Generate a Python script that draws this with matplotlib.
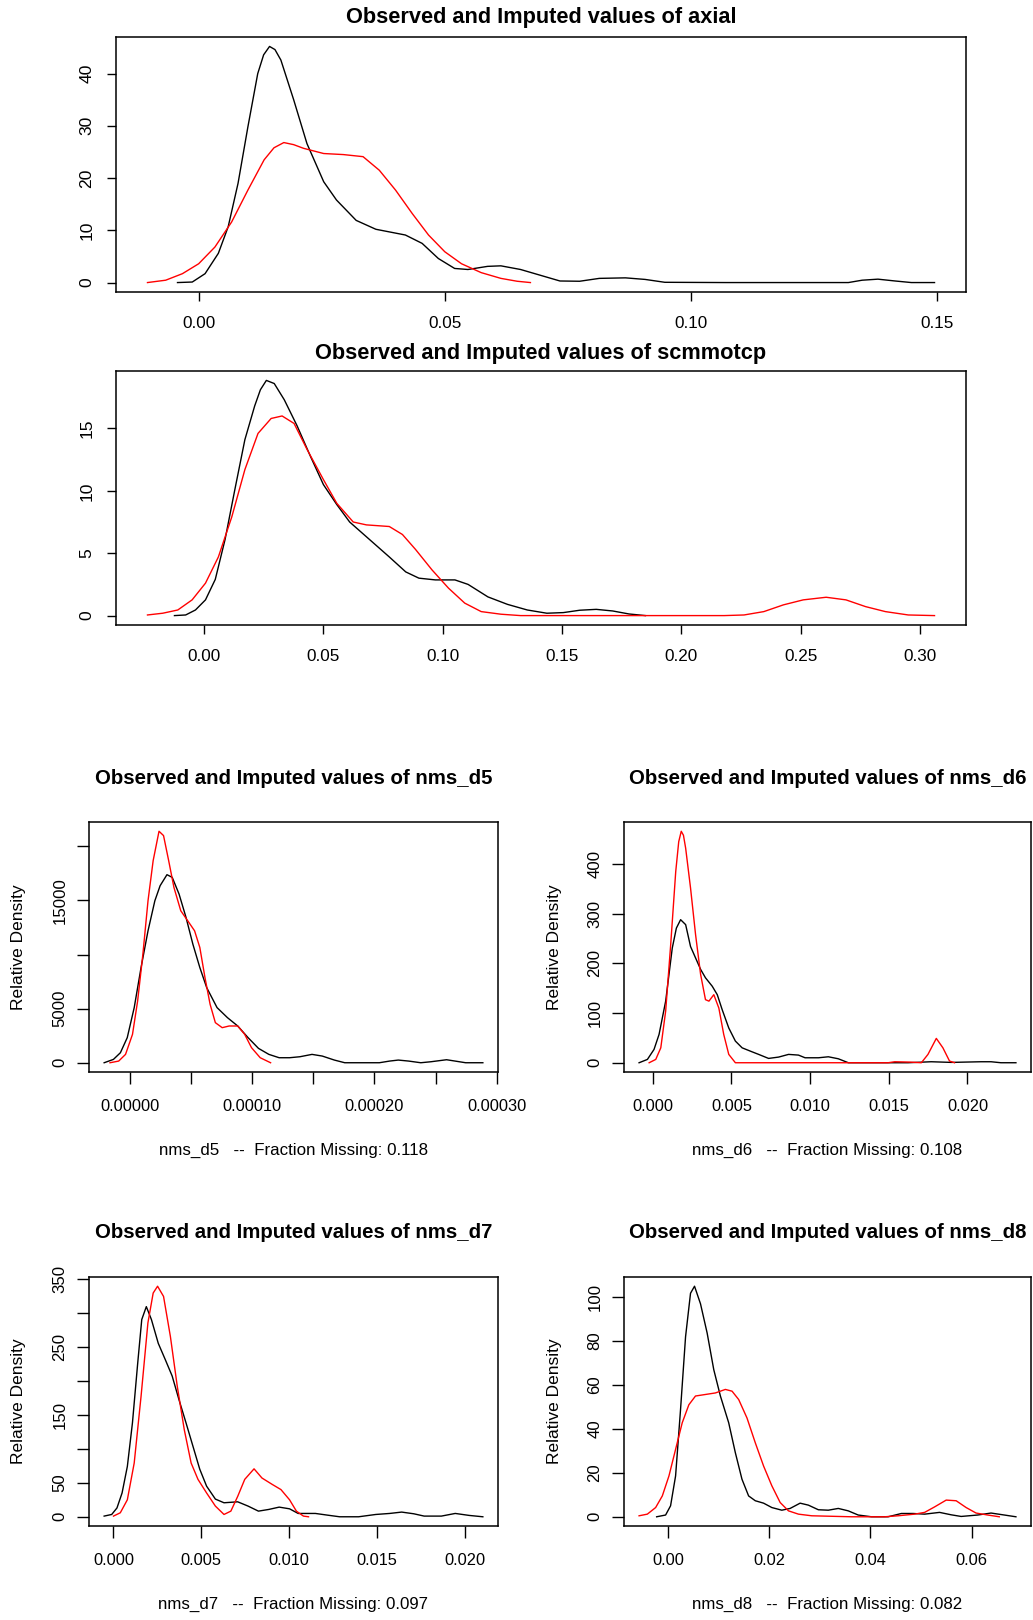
import matplotlib
matplotlib.use("Agg")
import matplotlib.pyplot as plt
import numpy as np

plt.rcParams['font.family'] = ['Liberation Sans', 'DejaVu Sans']

# ---- data (observed = black, imputed = red) ----
axial_obs_x = [-0.0043, -0.0013, 0.0013, 0.004, 0.006, 0.008, 0.010, 0.012, 0.0132, 0.0144, 0.0155, 0.0167,
               0.0193, 0.022, 0.0254, 0.028, 0.032, 0.036, 0.042, 0.0454, 0.0487, 0.052, 0.0547, 0.0587,
               0.0614, 0.0654, 0.0694, 0.0734, 0.0774, 0.0814, 0.0867, 0.0907, 0.0947, 0.107, 0.132, 0.1348,
               0.138, 0.1415, 0.1448, 0.1495]
axial_obs_y = [0, 0.1, 1.7, 5.6, 10.7, 19, 29.8, 40, 43.6, 45.2, 44.6, 42.6, 35, 26.6, 19.3, 15.8, 11.9,
               10.2, 9.1, 7.5, 4.6, 2.7, 2.5, 3.1, 3.2, 2.5, 1.4, 0.3, 0.25, 0.8, 0.9, 0.6, 0.05, 0, 0, 0.45,
               0.65, 0.3, 0, 0]
axial_imp_x = [-0.0104, -0.0067, -0.0033, 0.0, 0.0033, 0.0067, 0.010, 0.0133, 0.0153, 0.0173, 0.0193,
               0.0213, 0.0254, 0.0294, 0.0334, 0.0367, 0.040, 0.0434, 0.0467, 0.050, 0.0534, 0.0574, 0.0614,
               0.0647, 0.0674]
axial_imp_y = [0, 0.45, 1.7, 3.6, 6.8, 11.6, 17.7, 23.5, 25.8, 26.8, 26.4, 25.7, 24.7, 24.5, 24.1, 21.5,
               17.7, 13.2, 9.1, 5.9, 3.6, 1.9, 0.8, 0.25, 0]

scm_obs_x = [-0.0124, -0.0077, -0.0036, 0.0006, 0.0047, 0.0088, 0.0129, 0.0171, 0.0212, 0.0236, 0.0261,
             0.0294, 0.0336, 0.039, 0.0446, 0.050, 0.0556, 0.061, 0.0693, 0.0776, 0.0845, 0.090, 0.0969,
             0.1051, 0.1106, 0.1189, 0.1271, 0.1354, 0.1436, 0.1505, 0.1574, 0.1643, 0.1712, 0.178, 0.1849]
scm_obs_y = [0, 0.05, 0.45, 1.26, 2.9, 6.1, 10.1, 14.1, 16.8, 18.1, 18.85, 18.6, 17.3, 15.2, 12.75, 10.5,
             8.9, 7.5, 6.1, 4.7, 3.5, 3.0, 2.86, 2.86, 2.5, 1.5, 0.9, 0.45, 0.19, 0.24, 0.43, 0.5, 0.37,
             0.13, 0]
scm_imp_x = [-0.0237, -0.0173, -0.011, -0.005, 0.0006, 0.006, 0.0116, 0.0171, 0.0226, 0.0281, 0.0327,
             0.0377, 0.0432, 0.050, 0.0556, 0.0625, 0.068, 0.0776, 0.0831, 0.0886, 0.0955, 0.1024, 0.1092,
             0.1161, 0.1244, 0.1326, 0.2179, 0.2262, 0.2345, 0.2427, 0.251, 0.2606, 0.2689, 0.2771, 0.2854,
             0.295, 0.306]
scm_imp_y = [0.05, 0.19, 0.45, 1.26, 2.6, 4.7, 7.9, 11.7, 14.6, 15.8, 16.0, 15.4, 13.3, 10.9, 9.0, 7.5, 7.27,
             7.14, 6.5, 5.3, 3.66, 2.2, 1.0, 0.32, 0.11, 0, 0, 0.05, 0.32, 0.86, 1.26, 1.47, 1.26, 0.72, 0.32,
             0.05, 0]

d5_obs_x = [-2.12e-5, -1.36e-5, -0.79e-5, -0.23e-5, 0.34e-5, 0.9e-5, 1.47e-5, 2.03e-5, 2.46e-5, 3.02e-5,
            3.45e-5, 4.01e-5, 4.58e-5, 5.14e-5, 5.71e-5, 6.27e-5, 7.12e-5, 7.97e-5, 8.81e-5, 9.66e-5,
            10.51e-5, 11.36e-5, 12.2e-5, 13.05e-5, 13.9e-5, 14.89e-5, 15.73e-5, 16.72e-5, 17.57e-5, 20.4e-5,
            21.24e-5, 21.95e-5, 22.8e-5, 23.79e-5, 24.63e-5, 25.9e-5, 26.6e-5, 27.46e-5, 28.87e-5]
d5_obs_y = [0, 309, 926, 2315, 5092, 8795, 12190, 14967, 16356, 17374, 17127, 15584, 13424, 10955, 8795,
            6944, 5092, 4166, 3395, 2315, 1327, 772, 463, 463, 555, 772, 617, 247, 0, 0, 154, 247, 154, 0,
            93, 278, 154, 0, 0]
d5_imp_x = [-1.64e-5, -0.93e-5, -0.37e-5, 0.2e-5, 0.62e-5, 1.05e-5, 1.47e-5, 1.89e-5, 2.37e-5, 2.74e-5,
            3.16e-5, 3.59e-5, 4.15e-5, 4.72e-5, 5.28e-5, 5.71e-5, 6.13e-5, 6.55e-5, 6.98e-5, 7.54e-5,
            8.11e-5, 8.81e-5, 9.38e-5, 9.94e-5, 10.65e-5, 11.5e-5]
d5_imp_y = [0, 154, 772, 2623, 5709, 10030, 14967, 18670, 21386, 20985, 18670, 16201, 14041, 13115, 12190,
            10647, 7869, 5400, 3703, 3240, 3395, 3395, 2623, 1389, 463, 0]

d6_obs_x = [-0.00087, -0.00034, 0.00008, 0.0004, 0.00082, 0.00124, 0.0015, 0.00177, 0.00209, 0.0024,
            0.00272, 0.00304, 0.00335, 0.00378, 0.0041, 0.00441, 0.00483, 0.00525, 0.00568, 0.00631,
            0.00673, 0.00736, 0.008, 0.00863, 0.00926, 0.00968, 0.01053, 0.01116, 0.01179, 0.01243,
            0.01475, 0.01622, 0.0177, 0.01897, 0.02087, 0.0215, 0.02213, 0.02308]
d6_obs_y = [0, 6.7, 26.8, 57, 124, 231, 271, 288, 278, 234, 211, 188, 171, 154, 137, 107, 70, 43.6, 30, 22,
            16.8, 8.7, 11.4, 16.8, 15.4, 10, 10, 12, 8, 0, 0, 0, 2, 0.7, 2, 2, 0, 0]
d6_imp_x = [-0.00023, 0.00019, 0.00051, 0.00082, 0.00114, 0.00146, 0.00165, 0.00181, 0.00195, 0.00209,
            0.0024, 0.00272, 0.00304, 0.00335, 0.00357, 0.00388, 0.0042, 0.00451, 0.00483, 0.00525,
            0.01496, 0.01538, 0.01633, 0.01707, 0.01749, 0.01802, 0.01844, 0.01886, 0.01918]
d6_imp_y = [0, 6.7, 30, 104, 238, 385, 445, 466, 458, 432, 352, 258, 178, 127, 124, 137, 110, 57, 16.8, 0,
            0, 2, 1.3, 0, 16.8, 49, 30, 3.4, 0]

d7_obs_x = [-0.00053, -0.0001, 0.0002, 0.00049, 0.00079, 0.00108, 0.00138, 0.00161, 0.00187, 0.00216,
            0.00255, 0.00295, 0.00334, 0.00373, 0.00413, 0.00452, 0.00491, 0.0053, 0.0058, 0.00629,
            0.00707, 0.00766, 0.00825, 0.00884, 0.00943, 0.01002, 0.01051, 0.011, 0.01149, 0.01218,
            0.01287, 0.01395, 0.01493, 0.01572, 0.0164, 0.01709, 0.01768, 0.01866, 0.01945, 0.02024,
            0.02102]
d7_obs_y = [1, 3.4, 13, 35, 74, 138, 226, 290, 309, 290, 255, 231, 207, 172, 138, 104, 70, 45, 26, 20.6,
            22, 15.7, 8.3, 10.8, 14.2, 11.7, 4.9, 4.9, 4.9, 2.4, 0, 0, 3.4, 4.9, 6.9, 4.4, 1, 1, 4.9, 2, 0]
d7_imp_x = [0.0, 0.00039, 0.00079, 0.00118, 0.00157, 0.00196, 0.00226, 0.00251, 0.00285, 0.00324,
            0.00363, 0.00403, 0.00442, 0.00481, 0.0053, 0.0058, 0.00629, 0.00668, 0.00707, 0.00747,
            0.008, 0.00845, 0.00904, 0.00953, 0.01002, 0.01041, 0.01081, 0.0111]
d7_imp_y = [1, 5.9, 25, 79, 177, 285, 329, 339, 324, 265, 192, 128, 79, 55, 35, 15.7, 3.4, 8.3, 30, 55,
            70.5, 57, 47.5, 40, 25, 8.3, 1, 0]

d8_obs_x = [-0.00223, -0.00046, 0.00052, 0.00151, 0.00249, 0.00348, 0.00446, 0.00525, 0.00643, 0.00774,
            0.00905, 0.01036, 0.012, 0.01331, 0.01462, 0.01593, 0.01725, 0.01889, 0.02052, 0.02249,
            0.02413, 0.0261, 0.02774, 0.0297, 0.03167, 0.03364, 0.03561, 0.03757, 0.0402, 0.04348,
            0.0461, 0.0484, 0.0507, 0.05364, 0.05593, 0.0579, 0.06118, 0.0638, 0.06643, 0.06872]
d8_obs_y = [0, 0.8, 5, 18.6, 48.9, 82, 101.8, 105, 97, 83.7, 67, 55, 42.8, 29.2, 17.1, 9.5, 7.3, 6.2, 4.2,
            3, 3.8, 6.2, 5.3, 3.2, 3, 3.8, 2.7, 0.8, 0, 0, 1.5, 1.5, 1.2, 2, 0.9, 0.15, 0.8, 1.7, 0.8, 0]
d8_imp_x = [-0.0057, -0.00407, -0.00243, -0.00111, 0.0002, 0.00151, 0.00282, 0.00413, 0.00544, 0.00741,
            0.00938, 0.01134, 0.01266, 0.01397, 0.01561, 0.01725, 0.01889, 0.02052, 0.02216, 0.0238,
            0.02577, 0.0284, 0.03626, 0.04282, 0.04544, 0.04872, 0.05069, 0.05266, 0.05495, 0.05692,
            0.05889, 0.06085, 0.06315, 0.06544]
d8_imp_y = [0.45, 1.2, 4.2, 9.5, 18.6, 30.7, 42.8, 51, 55, 55.7, 56.4, 58, 57.2, 53.4, 45, 33.7, 23.1, 14.1,
            6.5, 2.7, 1.2, 0.45, 0, 0, 0.45, 1.2, 2, 4.5, 7.6, 7.3, 4.2, 1.7, 0.8, 0]

frac_missing = {"nms_d5": 0.118, "nms_d6": 0.108, "nms_d7": 0.097, "nms_d8": 0.082}

W, H = 1033, 1620
fig = plt.figure(figsize=(W / 100, H / 100), dpi=100)


def make_axes(l, t, r, b):
    return fig.add_axes([l / W, 1 - b / H, (r - l) / W, (b - t) / H])


def draw(ax, ox, oy, ix, iy, xticks, xlabels, yticks, ylabels, tsize, ypad, tlen):
    ax.plot(ox, oy, color="black", lw=1.0)
    ax.plot(ix, iy, color="red", lw=1.0)
    # R style limits: data range stretched by 4%
    allx = np.concatenate([ox, ix])
    ally = np.concatenate([oy, iy, [0]])
    dx = allx.max() - allx.min()
    dy = ally.max() - ally.min()
    ax.set_xlim(allx.min() - 0.04 * dx, allx.max() + 0.04 * dx)
    ax.set_ylim(ally.min() - 0.04 * dy, ally.max() + 0.04 * dy)
    ax.set_xticks(xticks)
    ax.set_xticklabels(xlabels, fontsize=tsize)
    ax.set_yticks(yticks)
    ax.set_yticklabels(ylabels, fontsize=tsize + 0.3, rotation=90, va="center")
    ax.tick_params(axis="x", direction="out", length=tlen, pad=11, width=1)
    ax.tick_params(axis="y", direction="out", length=tlen, pad=ypad, width=1)
    for s in ax.spines.values():
        s.set_linewidth(1.1)


# top two wide panels
ax1 = make_axes(116, 37, 966, 292)
draw(ax1, axial_obs_x, axial_obs_y, axial_imp_x, axial_imp_y,
     [0, 0.05, 0.10, 0.15], ["0.00", "0.05", "0.10", "0.15"],
     [0, 10, 20, 30, 40], ["0", "10", "20", "30", "40"], 12.3, 9, 6.5)
fig.text(541 / W, 1 - 18 / H, "Observed and Imputed values of axial",
         ha="center", va="center", fontsize=15.7, fontweight="bold")

ax2 = make_axes(116, 371, 966, 625)
draw(ax2, scm_obs_x, scm_obs_y, scm_imp_x, scm_imp_y,
     [0, 0.05, 0.10, 0.15, 0.20, 0.25, 0.30], ["0.00", "0.05", "0.10", "0.15", "0.20", "0.25", "0.30"],
     [0, 5, 10, 15], ["0", "5", "10", "15"], 12.3, 9, 6.5)
fig.text(541 / W, 1 - 353 / H, "Observed and Imputed values of scmmotcp",
         ha="center", va="center", fontsize=15.7, fontweight="bold")

# lower 2x2 panels
panels = [
    ("nms_d5", (89, 822, 498, 1072), d5_obs_x, d5_obs_y, d5_imp_x, d5_imp_y,
     [0, 5e-5, 1e-4, 1.5e-4, 2e-4, 2.5e-4, 3e-4], ["0.00000", "", "0.00010", "", "0.00020", "", "0.00030"],
     [0, 5000, 10000, 15000, 20000], ["0", "5000", "", "15000", ""]),
    ("nms_d6", (624, 822, 1031, 1072), d6_obs_x, d6_obs_y, d6_imp_x, d6_imp_y,
     [0, 0.005, 0.010, 0.015, 0.020], ["0.000", "0.005", "0.010", "0.015", "0.020"],
     [0, 100, 200, 300, 400], ["0", "100", "200", "300", "400"]),
    ("nms_d7", (89, 1277, 498, 1526), d7_obs_x, d7_obs_y, d7_imp_x, d7_imp_y,
     [0, 0.005, 0.010, 0.015, 0.020], ["0.000", "0.005", "0.010", "0.015", "0.020"],
     [0, 50, 100, 150, 200, 250, 300, 350], ["0", "50", "", "150", "", "250", "", "350"]),
    ("nms_d8", (624, 1277, 1031, 1526), d8_obs_x, d8_obs_y, d8_imp_x, d8_imp_y,
     [0, 0.02, 0.04, 0.06], ["0.00", "0.02", "0.04", "0.06"],
     [0, 20, 40, 60, 80, 100], ["0", "20", "40", "60", "80", "100"]),
]

for name, (l, t, r, b), ox, oy, ix, iy, xt, xl, yt, yl in panels:
    ax = make_axes(l, t, r, b)
    draw(ax, ox, oy, ix, iy, xt, xl, yt, yl, 11.8, 7, 8.5)
    cx = (l + r) / 2
    fig.text(cx / W, 1 - (t - 44) / H, "Observed and Imputed values of " + name,
             ha="center", va="center", fontsize=14.7, fontweight="bold")
    fig.text(cx / W, 1 - (b + 78) / H,
             name + "   --  Fraction Missing: " + str(frac_missing[name]),
             ha="center", va="center", fontsize=12.2)
    fig.text((l - 70) / W, 1 - ((t + b) / 2) / H, "Relative Density",
             ha="center", va="center", rotation=90, fontsize=12.5)

fig.savefig("out.png", dpi=100)
